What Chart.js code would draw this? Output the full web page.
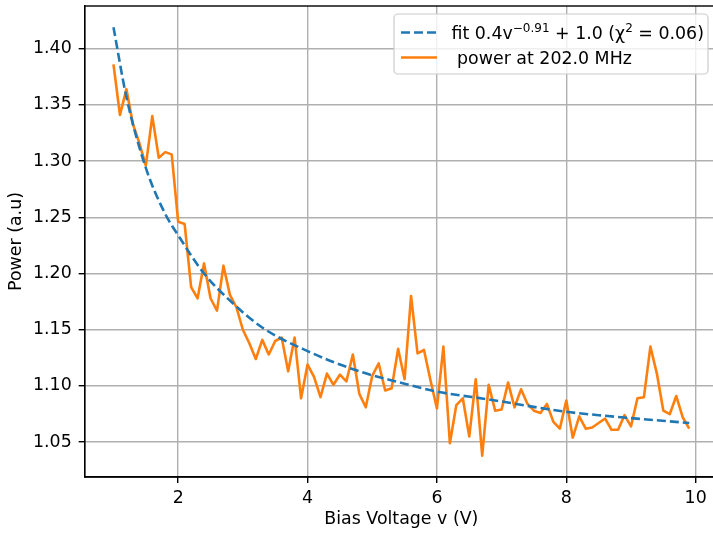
<!DOCTYPE html>
<html>
<head>
<meta charset="utf-8">
<script src="https://cdn.jsdelivr.net/npm/chart.js@4.4.1/dist/chart.umd.min.js"></script>
<style>
  html, body { margin: 0; padding: 0; background: #fff; overflow: hidden; }
  #wrap { width: 713px; height: 533px; overflow: hidden; }
</style>
</head>
<body>
<div id="wrap"><canvas id="myChart" width="718" height="533"></canvas></div>
<script>
// Bias voltage (V) for each measured point
const biasVoltage = [
  1.0, 1.1, 1.2, 1.3, 1.4, 1.5, 1.6, 1.7, 1.8, 1.9,
  2.0, 2.1, 2.2, 2.3, 2.4, 2.5, 2.6, 2.7, 2.8, 2.9,
  3.0, 3.1, 3.2, 3.3, 3.4, 3.5, 3.6, 3.7, 3.8, 3.9,
  4.0, 4.1, 4.2, 4.3, 4.4, 4.5, 4.6, 4.7, 4.8, 4.9,
  5.0, 5.1, 5.2, 5.3, 5.4, 5.5, 5.6, 5.7, 5.8, 5.9,
  6.0, 6.1, 6.2, 6.3, 6.4, 6.5, 6.6, 6.7, 6.8, 6.9,
  7.0, 7.1, 7.2, 7.3, 7.4, 7.5, 7.6, 7.7, 7.8, 7.9,
  8.0, 8.1, 8.2, 8.3, 8.4, 8.5, 8.6, 8.7, 8.8, 8.9,
  9.0, 9.1, 9.2, 9.3, 9.4, 9.5, 9.6, 9.7, 9.8, 9.9
];

// measured power at 202.0 MHz (a.u)
const powerValues = [
  1.386, 1.341, 1.364, 1.333, 1.316, 1.296, 1.340, 1.303, 1.308, 1.306,
  1.246, 1.244, 1.188, 1.178, 1.209, 1.178, 1.167, 1.207, 1.181, 1.170,
  1.150, 1.138, 1.124, 1.141, 1.128, 1.140, 1.143, 1.113, 1.143, 1.089,
  1.119, 1.108, 1.090, 1.111, 1.101, 1.110, 1.104, 1.128, 1.093, 1.081,
  1.109, 1.120, 1.096, 1.098, 1.133, 1.106, 1.180, 1.129, 1.132, 1.105,
  1.080, 1.135, 1.049, 1.083, 1.089, 1.055, 1.106, 1.038, 1.101, 1.078,
  1.079, 1.103, 1.081, 1.097, 1.084, 1.078, 1.076, 1.084, 1.068, 1.062,
  1.087, 1.054, 1.073, 1.062, 1.063, 1.067, 1.071, 1.061, 1.061, 1.074,
  1.064, 1.089, 1.090, 1.135, 1.111, 1.078, 1.075, 1.091, 1.072, 1.062
];

const fitVoltage = [1.0, 1.2, 1.5, 1.8, 2.0, 2.4, 2.8, 3.3, 4.0, 4.8, 5.5, 6.0, 6.8, 8.0, 8.5, 9.9];
const fitValues = [1.419, 1.357, 1.294, 1.253, 1.234, 1.200, 1.176, 1.152, 1.131, 1.113, 1.102, 1.095, 1.088, 1.077, 1.074, 1.067];

// tick labels
const xTicks = [2, 4, 6, 8, 10];
const yTicks = [1.05, 1.10, 1.15, 1.20, 1.25, 1.30, 1.35, 1.40];

// legend text pieces: [text, isSuperscript]
const fitLabel = [["fit 0.4v", false], ["\u22120.91", true], [" + 1.0 (\u03c7", false], ["2", true], [" = 0.06)", false]];
const powerLabel = [[" power at 202.0 MHz", false]];

const blue = "#1f77b4";
const orange = "#ff7f0e";
const font = "DejaVu Sans";
const fontSize = 17.4;

// draws the top/right spines
const framePlugin = {
  id: "frame",
  afterDatasetsDraw(chart) {
    const a = chart.chartArea;
    const ctx = chart.ctx;
    ctx.save();
    ctx.strokeStyle = "#000";
    ctx.lineWidth = 1.4;
    ctx.strokeRect(a.left, a.top, a.right - a.left, a.bottom - a.top);
    ctx.restore();
  }
};

// matplotlib style legend box with superscripts
const legendPlugin = {
  id: "mplLegend",
  afterDraw(chart) {
    const ctx = chart.ctx;
    ctx.save();
    const x0 = 394, y0 = 14, w = 314, h = 60, r = 4;
    ctx.beginPath();
    ctx.roundRect(x0, y0, w, h, r);
    ctx.fillStyle = "rgba(255,255,255,0.8)";
    ctx.fill();
    ctx.strokeStyle = "#cccccc";
    ctx.lineWidth = 1.2;
    ctx.stroke();

    const rows = [
      { parts: fitLabel, color: blue, dash: [9, 4], y: 32.5, textX: 451.5 },
      { parts: powerLabel, color: orange, dash: [], y: 57.5, textX: 451.5 }
    ];
    rows.forEach(row => {
      ctx.beginPath();
      ctx.setLineDash(row.dash);
      ctx.strokeStyle = row.color;
      ctx.lineWidth = 2.6;
      ctx.moveTo(401, row.y);
      ctx.lineTo(437, row.y);
      ctx.stroke();
      ctx.setLineDash([]);

      let x = row.textX;
      ctx.fillStyle = "#000";
      ctx.textBaseline = "alphabetic";
      row.parts.forEach(([txt, sup]) => {
        ctx.font = (sup ? "12px " : fontSize + "px ") + font;
        ctx.fillText(txt, x, sup ? row.y - 1 : row.y + 6);
        x += ctx.measureText(txt).width;
      });
    });
    ctx.restore();
  }
};

const ctx = document.getElementById("myChart").getContext("2d");
const myChart = new Chart(ctx, {
  type: "line",
  data: {
    datasets: [
      {
        label: "fit",
        data: fitVoltage.map((v, i) => ({ x: v, y: fitValues[i] })),
        borderColor: blue,
        borderWidth: 2.6,
        borderDash: [9, 4],
        cubicInterpolationMode: "monotone",
        pointRadius: 0,
        fill: false
      },
      {
        label: "power at 202.0 MHz",
        data: biasVoltage.map((v, i) => ({ x: v, y: powerValues[i] })),
        borderColor: orange,
        borderWidth: 2.6,
        borderJoinStyle: "round",
        pointRadius: 0,
        tension: 0,
        fill: false
      }
    ]
  },
  options: {
    responsive: false,
    animation: false,
    devicePixelRatio: 1,
    layout: { padding: { top: 6, left: 0, right: 0, bottom: 0 } },
    plugins: {
      legend: { display: false },
      tooltip: { enabled: false }
    },
    scales: {
      x: {
        type: "linear",
        min: 0.555,
        max: 10.345,
        afterBuildTicks: scale => { scale.ticks = xTicks.map(v => ({ value: v })); },
        afterFit: scale => {
          scale.height = 56;
          scale.paddingLeft = 0;
          scale.paddingRight = 0;
        },
        ticks: {
          color: "#000",
          font: { family: font, size: fontSize },
          padding: 5,
          maxRotation: 0,
          callback: v => String(v)
        },
        grid: { color: "#b0b0b0", lineWidth: 1.4, tickLength: 6, tickColor: "#000", tickWidth: 1.4 },
        border: { color: "#000", width: 1.4 },
        title: {
          display: true,
          text: "Bias Voltage v (V)",
          color: "#000",
          font: { family: font, size: fontSize },
          padding: { top: 0, bottom: 3 }
        }
      },
      y: {
        min: 1.019,
        max: 1.438,
        afterBuildTicks: scale => { scale.ticks = yTicks.map(v => ({ value: v })); },
        afterFit: scale => {
          scale.width = 84.7;
          scale.paddingTop = 0;
          scale.paddingBottom = 0;
        },
        ticks: {
          color: "#000",
          font: { family: font, size: fontSize },
          padding: 7,
          callback: v => v.toFixed(2)
        },
        grid: { color: "#b0b0b0", lineWidth: 1.4, tickLength: 6, tickColor: "#000", tickWidth: 1.4 },
        border: { color: "#000", width: 1.4 },
        title: {
          display: true,
          text: "Power (a.u)",
          color: "#000",
          font: { family: font, size: fontSize },
          padding: { top: 6, bottom: 0 }
        }
      }
    }
  },
  plugins: [framePlugin, legendPlugin]
});
</script>
</body>
</html>
